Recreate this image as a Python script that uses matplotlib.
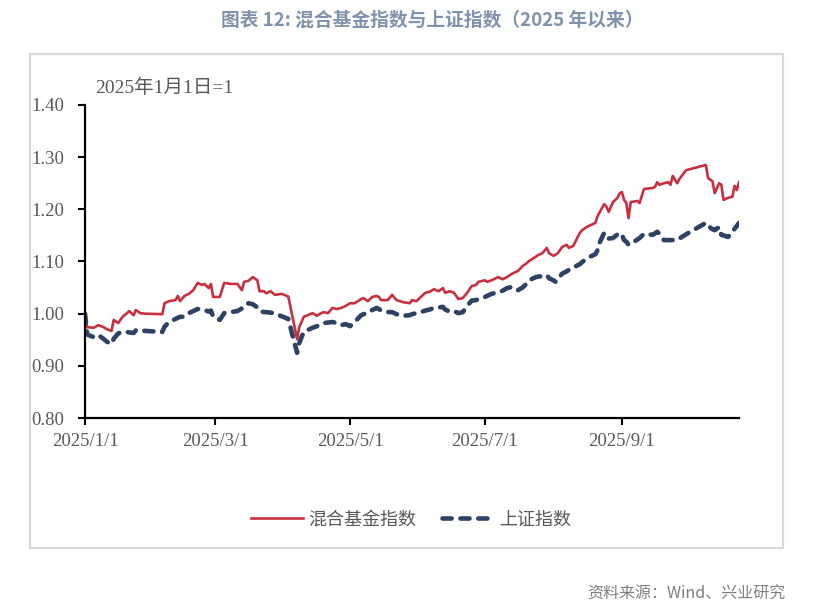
import matplotlib

matplotlib.use("Agg")
import matplotlib.dates as mdates
import matplotlib.pyplot as plt
import pandas as pd
from matplotlib.patches import Rectangle

plt.rcParams["font.family"] = ["Liberation Serif", "Noto Sans CJK SC"]

# values (2025-01-01 = 1)
dates = [
    "01-01", "01-02", "01-05", "01-07", "01-09", "01-11", "01-13", "01-14", "01-16", "01-18",
    "01-20", "01-21", "01-23", "01-24", "01-26", "01-28", "02-05", "02-06", "02-08", "02-11",
    "02-12", "02-13", "02-15", "02-17", "02-19", "02-21", "02-23", "02-24", "02-26", "02-27",
    "02-28", "03-03", "03-05", "03-08", "03-11", "03-13", "03-14", "03-16", "03-18", "03-20",
    "03-21", "03-23", "03-24", "03-26", "03-28", "03-31", "04-03", "04-07", "04-08", "04-09",
    "04-10", "04-14", "04-16", "04-17", "04-19", "04-21", "04-23", "04-25", "04-27", "04-29",
    "05-01", "05-03", "05-06", "05-07", "05-09", "05-11", "05-13", "05-14", "05-15", "05-18",
    "05-20", "05-22", "05-25", "05-28", "05-29", "05-31", "06-02", "06-04", "06-06", "06-08",
    "06-10", "06-12", "06-13", "06-15", "06-17", "06-19", "06-21", "06-23", "06-25", "06-27",
    "06-28", "07-01", "07-02", "07-04", "07-07", "07-09", "07-11", "07-13", "07-15", "07-16",
    "07-18", "07-20", "07-21", "07-24", "07-25", "07-27", "07-29", "07-30", "08-01", "08-02",
    "08-03", "08-05", "08-07", "08-08", "08-10", "08-12", "08-13", "08-14", "08-16", "08-18",
    "08-20", "08-21", "08-22", "08-24", "08-25", "08-26", "08-28", "08-30", "08-31", "09-01",
    "09-02", "09-03", "09-04", "09-05", "09-08", "09-09", "09-11", "09-15", "09-16", "09-17",
    "09-18", "09-20", "09-22", "09-23", "09-24", "09-26", "09-27", "09-30", "10-09", "10-10",
    "10-12", "10-13", "10-15", "10-16", "10-17", "10-19", "10-21", "10-22", "10-23", "10-24",
]
mixed_fund = [
    1.000, 0.974, 0.973, 0.978, 0.975, 0.970, 0.967, 0.988, 0.982, 0.994,
    1.001, 1.005, 0.997, 1.007, 1.001, 1.000, 0.999, 1.020, 1.024, 1.026,
    1.034, 1.024, 1.034, 1.038, 1.045, 1.059, 1.055, 1.057, 1.049, 1.057,
    1.032, 1.032, 1.059, 1.057, 1.057, 1.045, 1.061, 1.063, 1.070, 1.064,
    1.043, 1.043, 1.039, 1.043, 1.036, 1.038, 1.033, 0.951, 0.975, 0.984,
    0.994, 1.001, 0.996, 0.999, 1.003, 1.001, 1.011, 1.009, 1.011, 1.015,
    1.020, 1.020, 1.028, 1.030, 1.024, 1.032, 1.034, 1.032, 1.026, 1.026,
    1.036, 1.026, 1.022, 1.020, 1.026, 1.024, 1.032, 1.040, 1.042, 1.047,
    1.043, 1.049, 1.040, 1.043, 1.040, 1.028, 1.030, 1.040, 1.053, 1.055,
    1.061, 1.064, 1.061, 1.064, 1.070, 1.066, 1.070, 1.076, 1.080, 1.082,
    1.091, 1.097, 1.101, 1.109, 1.112, 1.116, 1.126, 1.116, 1.111, 1.113,
    1.116, 1.128, 1.132, 1.126, 1.130, 1.147, 1.155, 1.160, 1.166, 1.170,
    1.174, 1.187, 1.195, 1.210, 1.205, 1.195, 1.214, 1.222, 1.231, 1.233,
    1.218, 1.212, 1.183, 1.214, 1.216, 1.212, 1.239, 1.241, 1.243, 1.252,
    1.247, 1.250, 1.252, 1.247, 1.264, 1.250, 1.258, 1.275, 1.285, 1.260,
    1.254, 1.231, 1.250, 1.247, 1.218, 1.222, 1.224, 1.245, 1.237, 1.252,
]
sse_index = [
    1.000, 0.960, 0.955, 0.959, 0.953, 0.946, 0.942, 0.952, 0.962, 0.965,
    0.965, 0.964, 0.963, 0.968, 0.969, 0.967, 0.965, 0.975, 0.984, 0.990,
    0.992, 0.994, 0.994, 1.001, 1.005, 1.009, 1.008, 1.007, 1.004, 1.006,
    0.994, 0.988, 1.001, 1.003, 1.005, 1.010, 1.016, 1.020, 1.018, 1.012,
    1.005, 1.003, 1.003, 1.002, 1.000, 0.995, 0.990, 0.925, 0.944, 0.955,
    0.965, 0.973, 0.976, 0.978, 0.982, 0.983, 0.984, 0.982, 0.978, 0.980,
    0.976, 0.984, 0.997, 0.999, 1.001, 1.007, 1.011, 1.009, 1.006, 1.003,
    1.003, 0.999, 0.996, 0.997, 0.999, 1.001, 1.003, 1.006, 1.008, 1.011,
    1.012, 1.013, 1.008, 1.004, 1.005, 1.001, 1.003, 1.015, 1.025, 1.026,
    1.028, 1.032, 1.034, 1.038, 1.041, 1.044, 1.049, 1.051, 1.049, 1.045,
    1.050, 1.058, 1.064, 1.070, 1.071, 1.072, 1.074, 1.068, 1.064, 1.061,
    1.066, 1.077, 1.081, 1.084, 1.088, 1.093, 1.095, 1.099, 1.105, 1.110,
    1.114, 1.122, 1.137, 1.155, 1.151, 1.144, 1.145, 1.152, 1.155, 1.151,
    1.141, 1.138, 1.132, 1.134, 1.142, 1.145, 1.153, 1.151, 1.154, 1.157,
    1.153, 1.141, 1.141, 1.141, 1.141, 1.141, 1.144, 1.152, 1.174, 1.168,
    1.162, 1.160, 1.166, 1.151, 1.150, 1.147, 1.155, 1.163, 1.168, 1.174,
]
x_ticks = ["2025-01-01", "2025-03-01", "2025-05-01", "2025-07-01", "2025-09-01"]
y_ticks = [0.80, 0.90, 1.00, 1.10, 1.20, 1.30, 1.40]

W, H = 814, 606
x = pd.to_datetime(["2025-" + d for d in dates])


def fx(px):
    return px / W


def fy(py):
    return 1 - py / H


fig = plt.figure(figsize=(W / 100, H / 100), dpi=100)
fig.patches.append(
    Rectangle((fx(30), fy(548)), fx(783) - fx(30), fy(54) - fy(548),
              transform=fig.transFigure, fill=False, edgecolor="#d9d9d9", linewidth=1.6)
)
ax = fig.add_axes([fx(85), fy(418), fx(739) - fx(85), fy(105) - fy(418)])

ax.plot(x, mixed_fund, color="#C8303F", linewidth=1.9, label="混合基金指数")
ax.plot(x, sse_index, color="#2E4266", linewidth=3.3, linestyle=(0, (2, 1.9)),
        dash_capstyle="round", label="上证指数")

ax.set_xlim(x[0], x[-1])
ax.set_ylim(y_ticks[0], y_ticks[-1])
ax.set_yticks(y_ticks)
ax.set_yticklabels([f"{v:.2f}" for v in y_ticks])
ax.set_xticks(pd.to_datetime(x_ticks))
ax.xaxis.set_major_formatter(mdates.DateFormatter("%Y/%-m/%-d"))
ax.tick_params(axis="both", direction="out", length=5, width=1.5, colors="black",
               labelcolor="#595959", labelsize=13.5)
ax.tick_params(axis="y", pad=10)
ax.tick_params(axis="x", pad=6)
for side in ("top", "right"):
    ax.spines[side].set_visible(False)
for side in ("left", "bottom"):
    ax.spines[side].set_linewidth(1.6)
    ax.spines[side].set_color("black")

fig.text(fx(95), fy(88), "2025年1月1日=1", fontsize=14, color="#595959",
         ha="left", va="center")
fig.text(fx(432), fy(20), "图表 12: 混合基金指数与上证指数（2025 年以来）",
         family=["Noto Sans CJK SC", "DejaVu Sans"], weight="bold", fontsize=13.5,
         color="#8093AC", ha="center", va="center")
fig.text(fx(785), fy(594), "资料来源：Wind、兴业研究",
         family=["Noto Sans CJK SC", "DejaVu Sans"], fontsize=11.5,
         color="#7f7f7f", ha="right", va="center")

leg = fig.legend(loc="center", bbox_to_anchor=(fx(411), fy(520)), ncol=2, frameon=False,
                 handlelength=2.9, handletextpad=0.3, columnspacing=1.4,
                 prop={"family": ["Liberation Serif", "Noto Sans CJK SC"], "size": 13})
for t in leg.get_texts():
    t.set_color("#595959")

fig.savefig("out.png", dpi=100)
